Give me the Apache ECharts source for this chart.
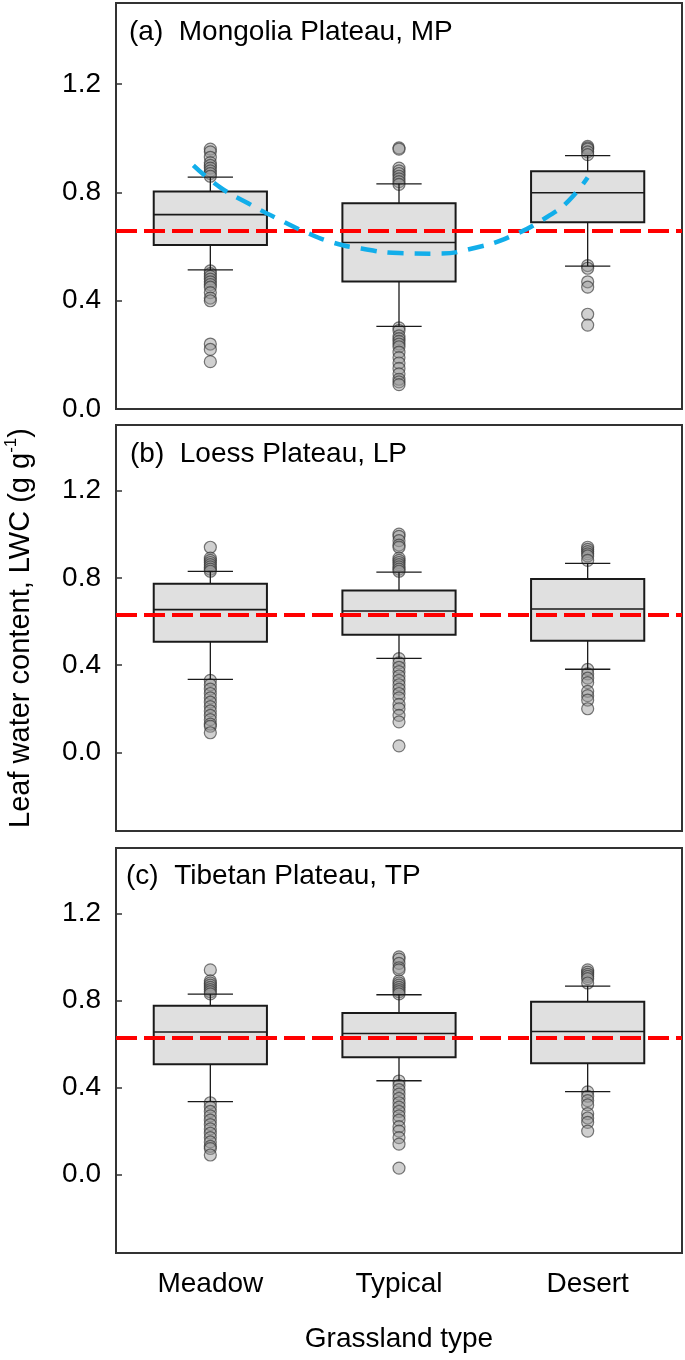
<!DOCTYPE html>
<html>
<head>
<meta charset="utf-8">
<script src="https://cdn.jsdelivr.net/npm/echarts@6/dist/echarts.min.js"></script>
<style>
  html, body { margin: 0; padding: 0; background: #fff; }
  #main { width: 685px; height: 1360px; }
</style>
</head>
<body>
<div id="main"></div>
<script>
var categories = ['Meadow', 'Typical', 'Desert'];
var yTicks = [0, 0.4, 0.8, 1.2];
var panelTitles = ['(a)  Mongolia Plateau, MP', '(b)  Loess Plateau, LP', '(c)  Tibetan Plateau, TP'];

// box stats per grassland type: [low whisker, q1, median, q3, high whisker]
var mpBoxes = [
    [0.514, 0.606, 0.718, 0.804, 0.857],
    [0.305, 0.471, 0.615, 0.760, 0.832],
    [0.528, 0.690, 0.799, 0.878, 0.936]
];
var mpOutliers = [
    [0.96, 0.95, 0.93, 0.91, 0.90, 0.89, 0.88, 0.87, 0.86, 0.51, 0.50, 0.49, 0.48, 0.47, 0.46, 0.45, 0.43, 0.41, 0.40, 0.24, 0.22, 0.175],
    [0.965, 0.96, 0.89, 0.88, 0.87, 0.86, 0.85, 0.84, 0.83, 0.30, 0.29, 0.27, 0.26, 0.25, 0.24, 0.23, 0.21, 0.19, 0.17, 0.15, 0.13, 0.11, 0.10, 0.09],
    [0.97, 0.965, 0.96, 0.95, 0.94, 0.53, 0.52, 0.47, 0.45, 0.35, 0.31]
];
var mpMean = 0.663;
// quadratic fit (blue dashed), x in category units (Meadow centre = 0.5)
var mpFitX = [0.41, 0.55, 0.7, 0.85, 1.0, 1.15, 1.3, 1.5, 1.7, 1.9, 2.1, 2.3, 2.4, 2.5];
var mpFitY = [0.90, 0.82, 0.76, 0.705, 0.655, 0.615, 0.593, 0.576, 0.574, 0.595, 0.64, 0.716, 0.77, 0.855];

var lpBoxes = [
    [0.335, 0.507, 0.654, 0.773, 0.829],
    [0.431, 0.539, 0.648, 0.742, 0.826],
    [0.381, 0.512, 0.657, 0.794, 0.866]
];
var lpOutliers = [
    [0.94, 0.89, 0.88, 0.87, 0.86, 0.85, 0.84, 0.83, 0.33, 0.31, 0.29, 0.27, 0.25, 0.23, 0.21, 0.19, 0.17, 0.15, 0.13, 0.12, 0.09],
    [1.00, 0.99, 0.97, 0.95, 0.94, 0.89, 0.88, 0.87, 0.86, 0.85, 0.84, 0.83, 0.43, 0.41, 0.39, 0.37, 0.35, 0.33, 0.31, 0.29, 0.27, 0.25, 0.22, 0.20, 0.17, 0.14, 0.03],
    [0.94, 0.93, 0.92, 0.91, 0.90, 0.88, 0.38, 0.36, 0.34, 0.32, 0.28, 0.26, 0.24, 0.20]
];
var lpMean = 0.63;

var tpBoxes = [
    [0.335, 0.507, 0.655, 0.775, 0.829],
    [0.431, 0.539, 0.648, 0.742, 0.826],
    [0.381, 0.512, 0.657, 0.794, 0.866]
];
var tpOutliers = [
    [0.94, 0.89, 0.88, 0.87, 0.86, 0.85, 0.84, 0.83, 0.33, 0.31, 0.29, 0.27, 0.25, 0.23, 0.21, 0.19, 0.17, 0.15, 0.13, 0.12, 0.09],
    [1.00, 0.99, 0.97, 0.95, 0.94, 0.89, 0.88, 0.87, 0.86, 0.85, 0.84, 0.83, 0.43, 0.41, 0.39, 0.37, 0.35, 0.33, 0.31, 0.29, 0.27, 0.25, 0.22, 0.20, 0.17, 0.14, 0.03],
    [0.94, 0.93, 0.92, 0.91, 0.90, 0.88, 0.38, 0.36, 0.34, 0.32, 0.28, 0.26, 0.24, 0.20]
];
var tpMean = 0.63;

var FONT = 'Liberation Sans, Arial, sans-serif';
var FS = 28;
var myChart = echarts.init(document.getElementById('main'));

function boxData(boxes) {
    return boxes.map(function (b, i) { return [i].concat(b); });
}
function outlierData(outs) {
    var s = [];
    outs.forEach(function (list, i) {
        list.forEach(function (v) { s.push([i, v]); });
    });
    return s;
}

function renderBox(params, api) {
    var idx = api.value(0);
    var band = api.size([1, 0])[0];
    var boxW = band * 0.6, capW = band * 0.24;
    var x = api.coord([idx, api.value(3)])[0];
    var yLow = api.coord([idx, api.value(1)])[1];
    var yQ1 = api.coord([idx, api.value(2)])[1];
    var yMed = api.coord([idx, api.value(3)])[1];
    var yQ3 = api.coord([idx, api.value(4)])[1];
    var yHigh = api.coord([idx, api.value(5)])[1];
    var thin = { stroke: '#1a1a1a', lineWidth: 1.3 };
    return {
        type: 'group',
        children: [
            { type: 'line', shape: { x1: x, y1: yLow, x2: x, y2: yQ1 }, style: thin },
            { type: 'line', shape: { x1: x, y1: yQ3, x2: x, y2: yHigh }, style: thin },
            { type: 'line', shape: { x1: x - capW / 2, y1: yLow, x2: x + capW / 2, y2: yLow }, style: thin },
            { type: 'line', shape: { x1: x - capW / 2, y1: yHigh, x2: x + capW / 2, y2: yHigh }, style: thin },
            { type: 'rect', shape: { x: x - boxW / 2, y: yQ3, width: boxW, height: yQ1 - yQ3 },
              style: { fill: '#e0e0e0', stroke: '#1a1a1a', lineWidth: 2 } },
            { type: 'line', shape: { x1: x - boxW / 2, y1: yMed, x2: x + boxW / 2, y2: yMed },
              style: { stroke: '#1a1a1a', lineWidth: 1.6 } }
        ]
    };
}

var grids = [
    { left: 116, width: 566, top: 3, height: 406 },
    { left: 116, width: 566, top: 425, height: 406 },
    { left: 116, width: 566, top: 848, height: 405 }
];
grids.forEach(function (g) {
    g.show = true;
    g.borderColor = '#333';
    g.borderWidth = 2;
    g.backgroundColor = 'transparent';
    g.containLabel = false;
    g.outerBoundsMode = 'none';
});

function catAxis(gi, showLabels) {
    var ax = {
        type: 'category',
        gridIndex: gi,
        data: categories,
        axisLine: { onZero: false, lineStyle: { color: '#333', width: 2 } },
        axisTick: { show: false },
        axisLabel: { show: showLabels, fontSize: FS, fontFamily: FONT, color: '#000', margin: 17 },
        splitLine: { show: false }
    };
    if (showLabels) {
        ax.name = 'Grassland type';
        ax.nameLocation = 'middle';
        ax.nameGap = 72;
        ax.nameTextStyle = { fontSize: FS, fontFamily: FONT, color: '#000' };
    }
    return ax;
}

function valAxis(gi, min) {
    return {
        type: 'value',
        gridIndex: gi,
        min: min,
        max: 1.5,
        axisLine: { show: true, onZero: false, lineStyle: { color: '#333', width: 2 } },
        axisTick: { show: true, inside: true, length: 6, customValues: yTicks, lineStyle: { color: '#333', width: 1.5 } },
        axisLabel: {
            customValues: yTicks,
            fontSize: FS, fontFamily: FONT, color: '#000', margin: 15,
            formatter: function (v) { return v.toFixed(1); }
        },
        splitLine: { show: false }
    };
}

var yAxes = [valAxis(0, 0), valAxis(1, -0.36), valAxis(2, -0.36)];
yAxes[1].name = '{t|Leaf water content, LWC (g g}{s|-1}{t|)}';
yAxes[1].nameLocation = 'middle';
yAxes[1].nameGap = 77;
yAxes[1].nameRotate = 90;
yAxes[1].nameTextStyle = {
    fontSize: 29, fontFamily: FONT, color: '#000',
    rich: {
        t: { fontSize: 29, fontFamily: FONT, color: '#000', lineHeight: 36 },
        s: { fontSize: 17, fontFamily: FONT, color: '#000', lineHeight: 17, verticalAlign: 'top' }
    }
};

var xAxes = [
    catAxis(0, false),
    { type: 'value', gridIndex: 0, min: 0, max: 3, show: false },
    catAxis(1, false),
    catAxis(2, true)
];

var panels = [
    { boxes: mpBoxes, outs: mpOutliers, mean: mpMean, x: 0 },
    { boxes: lpBoxes, outs: lpOutliers, mean: lpMean, x: 2 },
    { boxes: tpBoxes, outs: tpOutliers, mean: tpMean, x: 3 }
];

var series = [];
panels.forEach(function (p, i) {
    series.push({
        type: 'scatter',
        xAxisIndex: p.x,
        yAxisIndex: i,
        symbol: 'circle',
        symbolSize: 12,
        z: 2,
        itemStyle: { color: 'rgba(150,150,150,0.45)', borderColor: 'rgba(50,50,50,0.65)', borderWidth: 1.2, opacity: 1 },
        data: outlierData(p.outs)
    });
    series.push({
        type: 'custom',
        xAxisIndex: p.x,
        yAxisIndex: i,
        z: 3,
        renderItem: renderBox,
        encode: { x: 0, y: [1, 2, 3, 4, 5] },
        data: boxData(p.boxes),
        markLine: {
            silent: true,
            symbol: 'none',
            z: 5,
            label: { show: false },
            lineStyle: { color: '#ff0000', width: 4, type: [21, 7] },
            data: [{ yAxis: p.mean }]
        }
    });
});

series.push({
    type: 'line',
    xAxisIndex: 1,
    yAxisIndex: 0,
    symbol: 'none',
    smooth: true,
    z: 6,
    lineStyle: { color: '#12aeea', width: 4.5, type: [16, 11] },
    data: mpFitX.map(function (x, i) { return [x, mpFitY[i]]; })
});

var titleTops = [18, 440, 862];
var titleLefts = [129, 130, 126];

var option = {
    animation: false,
    backgroundColor: '#fff',
    title: panelTitles.map(function (t, i) {
        return {
            text: t, left: titleLefts[i], top: titleTops[i], padding: 0,
            textStyle: { fontSize: FS, fontWeight: 'normal', fontFamily: FONT, color: '#000' }
        };
    }),
    grid: grids,
    xAxis: xAxes,
    yAxis: yAxes,
    series: series
};
myChart.setOption(option);
</script>
</body>
</html>
